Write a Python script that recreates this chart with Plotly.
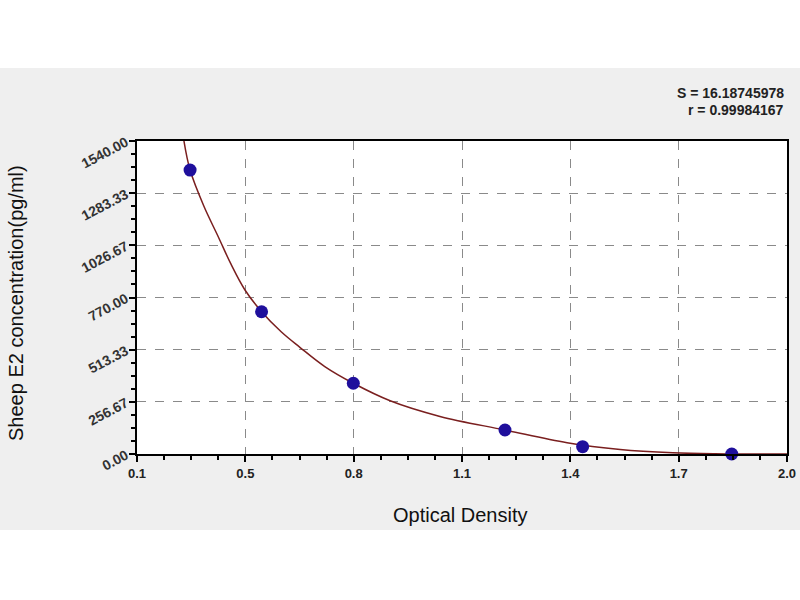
import plotly.graph_objects as go

# Standard points (optical density vs concentration)
od_points = [0.347, 0.545, 0.799, 1.219, 1.434, 1.847]
conc_points = [1397, 700, 348, 118, 36, 0]

# Fitted curve
curve_od = [0.330, 0.347, 0.385, 0.425, 0.460, 0.499, 0.545, 0.600, 0.651, 0.720,
            0.799, 0.901, 1.039, 1.219, 1.391, 1.538, 1.684, 1.800, 1.900, 2.000]
curve_conc = [1540, 1397, 1220, 1069, 935, 807, 700, 600, 525, 430,
              348, 262, 185, 118, 55, 22, 6, 1, 0, 0]

x_tickvals = [0.2, 0.5, 0.8, 1.1, 1.4, 1.7, 2.0]
x_ticktext = ["0.1", "0.5", "0.8", "1.1", "1.4", "1.7", "2.0"]
y_tickvals = [0.0, 256.67, 513.33, 770.0, 1026.67, 1283.33, 1540.0]
y_ticktext = ["0.00", "256.67", "513.33", "770.00", "1026.67", "1283.33", "1540.00"]

stats_text = ["S = 16.18745978", "r = 0.99984167"]

FONT = "Liberation Sans, Arial, sans-serif"

fig = go.Figure()
fig.add_trace(go.Scatter(x=curve_od, y=curve_conc, mode="lines",
                         line=dict(color="#7a1f1f", width=1.5, shape="spline", smoothing=1.0),
                         hoverinfo="skip", showlegend=False))
fig.add_trace(go.Scatter(x=od_points, y=conc_points, mode="markers",
                         marker=dict(color="#1f0f9c", size=13, line=dict(width=0)),
                         showlegend=False, cliponaxis=False))

axis_common = dict(showline=True, linecolor="black", linewidth=2, mirror=True,
                   ticks="outside", ticklen=6, tickwidth=1.5, tickcolor="black",
                   showgrid=True, gridcolor="#8a8a8a", griddash="dash", gridwidth=1,
                   zeroline=False)

fig.update_xaxes(range=[0.2, 2.0], tickmode="array", tickvals=x_tickvals, ticktext=x_ticktext,
                 tickfont=dict(family=FONT, size=13, color="#222", weight="bold"),
                 minor=dict(ticks="outside", ticklen=4, tickwidth=1.5, tickcolor="black",
                            dtick=0.075, tick0=0.2, showgrid=False),
                 **axis_common)
fig.update_yaxes(range=[0, 1540], tickmode="array", tickvals=y_tickvals, ticktext=y_ticktext,
                 tickangle=-28,
                 tickfont=dict(family=FONT, size=14, color="#333", weight="bold"),
                 minor=dict(ticks="outside", ticklen=4, tickwidth=1.5, tickcolor="black",
                            dtick=1540 / 24, tick0=0, showgrid=False),
                 **axis_common)

shapes = [
    dict(type="rect", xref="paper", yref="paper", x0=-0.25, x1=1.05,
         y0=(454 - 530) / 313, y1=(454 - 68) / 313,
         fillcolor="#efefef", line=dict(width=0), layer="below"),
    dict(type="rect", xref="paper", yref="paper", x0=0, x1=1, y0=0, y1=1,
         fillcolor="white", line=dict(width=0), layer="below"),
]

annotations = [
    dict(xref="paper", yref="paper", x=(786 - 137) / 650, y=(454 - 93) / 313,
         text=stats_text[0], showarrow=False, xanchor="right", yanchor="middle",
         font=dict(family=FONT, size=14, color="#222", weight="bold")),
    dict(xref="paper", yref="paper", x=(786 - 137) / 650, y=(454 - 110) / 313,
         text=stats_text[1], showarrow=False, xanchor="right", yanchor="middle",
         font=dict(family=FONT, size=14, color="#222", weight="bold")),
    dict(xref="paper", yref="paper", x=(460 - 137) / 650, y=(454 - 515) / 313,
         text="Optical Density", showarrow=False, xanchor="center", yanchor="middle",
         font=dict(family=FONT, size=20, color="#111")),
    dict(xref="paper", yref="paper", x=(16 - 137) / 650, y=(454 - 303) / 313,
         text="Sheep E2 concentration(pg/ml)", showarrow=False, textangle=-90,
         xanchor="center", yanchor="middle",
         font=dict(family=FONT, size=20, color="#111")),
]

fig.update_layout(width=800, height=600,
                  margin=dict(l=137, r=13, t=141, b=146, autoexpand=False),
                  paper_bgcolor="white", plot_bgcolor="white",
                  shapes=shapes, annotations=annotations, showlegend=False)

fig.write_html("out.html", config={"displayModeBar": False},
               post_script="document.body.style.margin='0px';document.body.style.padding='0px';")
